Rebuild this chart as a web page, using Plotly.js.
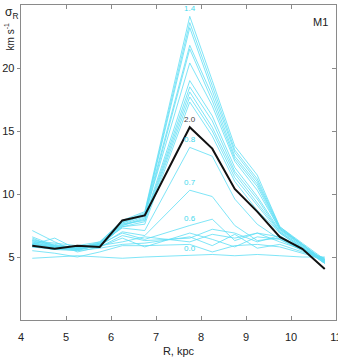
<!DOCTYPE html>
<html>
<head>
<meta charset="utf-8">
<script src="https://cdn.plot.ly/plotly-3.0.1.min.js"></script>
<style>
  html, body { margin: 0; padding: 0; background: #fff; }
  #plot { width: 338px; height: 358px; }
</style>
</head>
<body>
<div id="plot"></div>
<script>
// radii of the bins, kpc
var radius = [4.25, 4.75, 5.25, 5.75, 6.25, 6.75, 7.75, 8.25, 8.75, 9.25, 9.75, 10.25, 10.75];

// sigma_R for each model parameter (cyan)
var s00 = [4.9, 5.0, 5.1, 5.0, 4.9, 5.0, 5.1, 5.2, 5.1, 5.2, 5.1, 5.0, 5.0];
var s01 = [5.5, 5.3, 5.0, 5.4, 5.9, 5.9, 6.0, 5.4, 5.9, 6.0, 5.8, 5.3, 4.8];
var s02 = [5.8, 5.6, 5.5, 5.7, 6.0, 6.1, 6.6, 5.9, 6.8, 5.7, 6.0, 5.4, 4.9];
var s03 = [6.0, 6.5, 5.6, 5.9, 6.2, 6.6, 6.2, 6.8, 6.5, 6.9, 6.2, 5.6, 4.9];
var s04 = [6.3, 5.8, 5.7, 5.8, 6.5, 5.8, 6.9, 6.4, 5.8, 6.6, 6.4, 5.5, 4.8];
var s05 = [7.1, 6.2, 5.4, 5.8, 6.7, 6.3, 6.5, 7.2, 6.9, 6.2, 6.7, 5.6, 4.7];
var s06 = [6.6, 5.9, 5.8, 6.0, 6.9, 6.4, 7.5, 8.0, 6.3, 6.9, 6.6, 5.7, 4.8];
var s07 = [6.2, 5.7, 5.6, 5.9, 7.0, 6.7, 10.3, 9.8, 7.5, 6.3, 6.5, 5.6, 4.7];
var s08 = [6.0, 5.8, 5.7, 6.1, 7.3, 7.1, 13.7, 13.0, 9.6, 7.6, 6.4, 5.6, 4.6];
var s09 = [5.9, 5.6, 5.8, 5.9, 7.4, 7.6, 17.3, 14.6, 11.0, 8.7, 6.9, 5.7, 4.5];
var s10 = [6.1, 5.7, 5.5, 6.0, 7.6, 7.9, 18.1, 15.3, 11.6, 9.3, 7.0, 5.8, 4.5];
var s11 = [6.4, 5.9, 5.6, 6.1, 7.5, 8.1, 19.0, 16.2, 12.1, 9.8, 7.1, 5.9, 4.6];
var s12 = [6.2, 6.0, 5.7, 6.2, 7.7, 8.3, 20.4, 17.0, 12.6, 10.3, 7.2, 6.0, 4.6];
var s13 = [6.5, 5.8, 5.8, 6.0, 7.8, 8.4, 21.8, 17.8, 13.0, 10.8, 7.3, 6.0, 4.7];
var s14 = [6.3, 6.1, 5.9, 6.2, 7.9, 8.6, 24.1, 19.0, 13.8, 11.5, 7.4, 6.1, 4.8];
var s15 = [6.1, 5.9, 5.7, 6.1, 7.8, 8.5, 23.6, 18.6, 13.5, 11.2, 7.4, 6.0, 4.7];
var s16 = [6.0, 5.8, 5.6, 6.0, 7.7, 8.4, 23.2, 18.2, 13.3, 11.0, 7.3, 6.0, 4.6];
var s17 = [5.8, 5.7, 5.8, 5.9, 7.6, 8.2, 21.5, 17.4, 12.8, 10.6, 7.2, 5.9, 4.6];
var s18 = [5.9, 5.6, 5.7, 5.8, 7.5, 8.0, 18.5, 15.8, 11.8, 9.6, 7.0, 5.8, 4.5];
var s19 = [6.0, 5.7, 5.6, 5.9, 7.4, 7.8, 17.7, 15.0, 11.3, 9.1, 6.9, 5.7, 4.5];
var cyanSeries = [s00, s01, s02, s03, s04, s05, s06, s07, s08, s09,
                  s10, s11, s12, s13, s14, s15, s16, s17, s18, s19];
var cyanNames = ['0.0', '0.1', '0.2', '0.3', '0.4', '0.5', '0.6', '0.7', '0.8', '0.9',
                 '1.0', '1.1', '1.2', '1.3', '1.4', '1.5', '1.6', '1.7', '1.8', '1.9'];

// the model shown in black
var blackName = '2.0';
var blackSeries = [5.9, 5.65, 5.9, 5.8, 7.9, 8.3, 15.3, 13.6, 10.4, 8.6, 6.6, 5.65, 4.05];

// which curves get a label at the 7.75 kpc bin
var labelled = ['0.0', '0.6', '0.7', '0.8', '1.4'];
var labelBin = 6;

var xTicks = [4, 5, 6, 7, 8, 9, 10, 11];
var yTicks = [5, 10, 15, 20];

var cyan = 'rgba(95,222,245,0.8)';
var cyanText = '#3fd9ee';
var axisGrey = '#8a8a8a';
var textColor = '#222';

var traces = [];
var annotations = [];

cyanSeries.forEach(function (vals, i) {
    traces.push({
        x: radius, y: vals, name: cyanNames[i], type: 'scatter', mode: 'lines',
        line: { color: cyan, width: 1 }, hoverinfo: 'skip'
    });
    if (labelled.indexOf(cyanNames[i]) >= 0) {
        annotations.push({
            x: radius[labelBin], y: vals[labelBin], xref: 'x', yref: 'y',
            text: cyanNames[i], showarrow: false, yanchor: 'bottom', yshift: 1,
            font: { family: 'Arial', size: 8, color: cyanText }
        });
    }
});

traces.push({
    x: radius, y: blackSeries, name: blackName, type: 'scatter', mode: 'lines',
    line: { color: '#111', width: 2 }, hoverinfo: 'skip'
});
annotations.push({
    x: radius[labelBin], y: blackSeries[labelBin], xref: 'x', yref: 'y',
    text: blackName, showarrow: false, yanchor: 'bottom', yshift: 1,
    font: { family: 'Arial', size: 8, color: '#444' }
});

// empty trace so the top/right mirror axes exist
traces.push({ x: [], y: [], xaxis: 'x2', yaxis: 'y2', showlegend: false, hoverinfo: 'skip' });

// axis titles and panel label
annotations.push({
    xref: 'paper', yref: 'paper', x: -0.03, y: 0.975, xanchor: 'center', yanchor: 'middle',
    text: 'σ<sub>R</sub>', showarrow: false,
    font: { family: 'Arial', size: 12, color: textColor }
});
annotations.push({
    xref: 'paper', yref: 'paper', x: -0.035, y: 0.9, xanchor: 'center', yanchor: 'middle',
    text: 'km s<sup>-1</sup>', textangle: -90, showarrow: false,
    font: { family: 'Arial', size: 10, color: textColor }
});
annotations.push({
    xref: 'paper', yref: 'paper', x: 0.98, y: 0.945, xanchor: 'right', yanchor: 'middle',
    text: 'M1', showarrow: false,
    font: { family: 'Arial', size: 11, color: textColor }
});

var layout = {
    width: 338,
    height: 358,
    margin: { l: 21, r: 2, t: 5, b: 38 },
    paper_bgcolor: '#fff',
    plot_bgcolor: '#fff',
    showlegend: false,
    font: { family: 'Arial', size: 11, color: textColor },
    xaxis: {
        range: [4, 11], tickvals: xTicks, ticktext: xTicks.map(String),
        ticks: 'inside', ticklen: 4, tickcolor: axisGrey,
        ticklabelstandoff: 6, ticklabeloverflow: 'allow',
        showline: true, linecolor: axisGrey, linewidth: 1.3,
        showgrid: false, zeroline: false,
        title: { text: 'R, kpc', font: { size: 11 }, standoff: 5 }
    },
    yaxis: {
        range: [0, 25], tickvals: yTicks, ticktext: yTicks.map(String),
        ticks: 'outside', ticklen: 3, tickcolor: axisGrey,
        showline: true, linecolor: axisGrey, linewidth: 1.3,
        showgrid: false, zeroline: false
    },
    xaxis2: {
        overlaying: 'x', side: 'top', range: [4, 11], tickvals: xTicks,
        showticklabels: false, ticks: 'inside', ticklen: 4, tickcolor: axisGrey,
        showline: true, linecolor: axisGrey, linewidth: 1.3,
        showgrid: false, zeroline: false
    },
    yaxis2: {
        overlaying: 'y', side: 'right', range: [0, 25], tickvals: yTicks,
        showticklabels: false, ticks: 'inside', ticklen: 4, tickcolor: axisGrey,
        showline: true, linecolor: axisGrey, linewidth: 1.3,
        showgrid: false, zeroline: false
    },
    annotations: annotations
};

Plotly.newPlot('plot', traces, layout, { displayModeBar: false, staticPlot: true });
</script>
</body>
</html>
